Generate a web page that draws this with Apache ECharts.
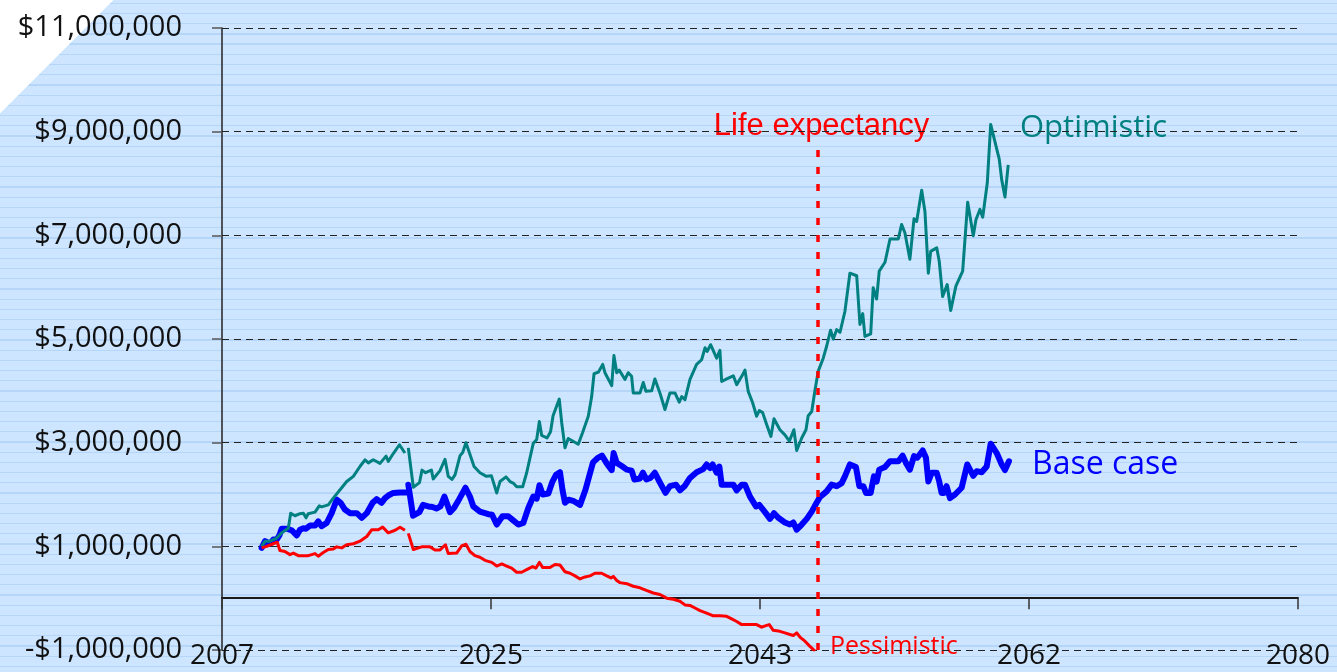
<!DOCTYPE html>
<html>
<head>
<meta charset="utf-8">
<script src="https://cdn.jsdelivr.net/npm/echarts@6/dist/echarts.min.js"></script>
<style>
html,body{margin:0;padding:0;width:1337px;height:672px;overflow:hidden;}
body{
  background-color:#cde5fe;
  background-image:
    linear-gradient(135deg,#ffffff 0,#ffffff 79.9px,rgba(255,255,255,0) 80.4px),
    repeating-linear-gradient(to bottom,rgba(0,0,0,0) 0,rgba(0,0,0,0) 2.7px,#b6d6f9 2.7px,#b6d6f9 4.0px,rgba(0,0,0,0) 4.0px,rgba(0,0,0,0) 10.2px);
}
#chart{width:1337px;height:672px;}
</style>
</head>
<body>
<div id="chart"></div>
<script>
// x values: years since 2007; y values: portfolio value in millions of dollars
const xTickLabels = ['2007', '2025', '2043', '2062', '2080'];
const yTickLabels = ['-$1,000,000', '$1,000,000', '$3,000,000', '$5,000,000', '$7,000,000', '$9,000,000', '$11,000,000'];
const seriesNames = ['Optimistic', 'Base case', 'Pessimistic'];
const lifeExpectancyYears = 40.43;

const optimisticMillions = [
[2.69,1.00],[2.92,1.10],[3.26,1.10],[3.71,1.16],[4.05,1.26],[4.50,1.35],[4.66,1.64],[4.95,1.59],[5.29,1.63],[5.52,1.64],[5.70,1.55],[5.85,1.63],[6.31,1.66],[6.60,1.78],[6.76,1.76],[7.21,1.80],[7.55,1.93],[8.12,2.13],[8.46,2.25],[8.91,2.35],[9.36,2.54],[9.70,2.67],[9.93,2.61],[10.26,2.67],[10.72,2.60],[11.13,2.74],[11.28,2.64],[11.62,2.79],[12.04,2.96],[12.41,2.80],[12.52,null],[12.64,2.90],[12.98,2.14],[13.40,2.23],[13.57,2.47],[13.81,2.42],[14.21,2.47],[14.33,2.30],[14.79,2.46],[15.13,2.68],[15.35,2.35],[15.60,2.29],[15.81,2.38],[16.15,2.75],[16.33,2.81],[16.55,3.00],[16.79,2.80],[17.10,2.54],[17.50,2.42],[17.94,2.35],[18.28,2.36],[18.64,2.03],[18.86,2.25],[19.27,2.34],[19.54,2.25],[19.76,2.22],[19.99,2.15],[20.40,2.15],[20.67,2.42],[21.12,2.99],[21.35,3.06],[21.53,3.41],[21.69,3.14],[22.05,3.09],[22.29,3.21],[22.46,3.52],[22.88,3.84],[23.05,3.38],[23.27,2.90],[23.49,3.08],[24.17,2.97],[24.46,3.19],[24.85,3.51],[25.08,3.89],[25.24,4.33],[25.53,4.36],[25.83,4.51],[25.98,4.35],[26.44,4.10],[26.59,4.68],[26.78,4.35],[26.95,4.40],[27.34,4.22],[27.56,4.35],[27.79,4.28],[27.90,3.96],[28.36,3.96],[28.58,4.16],[28.76,3.99],[29.15,4.00],[29.37,4.23],[29.49,4.22],[29.71,3.96],[30.05,3.64],[30.39,3.96],[30.73,3.96],[31.02,3.78],[31.19,3.89],[31.41,3.83],[31.75,4.22],[32.20,4.51],[32.54,4.60],[32.77,4.83],[32.92,4.76],[33.15,4.89],[33.45,4.70],[33.56,4.63],[33.78,4.78],[33.90,4.18],[34.24,4.23],[34.69,4.29],[34.92,4.12],[35.26,4.28],[35.48,4.40],[35.70,3.99],[36.00,3.77],[36.27,3.51],[36.45,3.62],[36.68,3.58],[36.95,3.35],[37.24,3.12],[37.45,3.46],[37.85,3.25],[38.19,3.15],[38.49,3.03],[38.80,3.25],[38.99,2.85],[39.33,3.09],[39.62,3.25],[39.77,3.52],[40.01,3.60],[40.23,4.01],[40.45,4.38],[40.79,4.63],[41.02,4.86],[41.29,5.17],[41.47,5.00],[41.70,5.18],[41.93,5.13],[42.26,5.53],[42.60,6.27],[43.06,6.22],[43.28,5.28],[43.47,5.49],[43.62,5.05],[44.01,5.10],[44.18,5.99],[44.41,5.77],[44.59,6.31],[44.98,6.48],[45.32,6.93],[45.88,6.93],[46.11,7.21],[46.33,7.05],[46.67,6.54],[46.95,7.32],[47.13,7.27],[47.47,7.87],[47.69,7.46],[47.92,6.27],[48.08,6.69],[48.49,6.76],[48.66,6.50],[48.89,5.82],[49.20,6.05],[49.44,5.55],[49.79,6.02],[50.25,6.31],[50.59,7.64],[50.97,6.99],[51.15,7.30],[51.42,7.50],[51.61,7.35],[51.92,8.01],[52.15,9.14],[52.73,8.47],[52.90,8.07],[53.12,7.74],[53.34,8.36]
];

const baseCaseMillions = [
[2.69,0.97],[2.92,1.10],[3.26,1.05],[3.48,1.13],[3.71,1.13],[3.89,1.21],[4.05,1.34],[4.39,1.34],[4.73,1.31],[5.07,1.21],[5.29,1.32],[5.52,1.35],[5.70,1.34],[5.97,1.40],[6.31,1.40],[6.53,1.48],[6.76,1.39],[7.10,1.45],[7.44,1.64],[7.78,1.90],[8.05,1.84],[8.34,1.71],[8.68,1.64],[9.14,1.64],[9.48,1.55],[9.82,1.64],[10.22,1.84],[10.49,1.91],[10.83,1.84],[11.06,1.93],[11.28,1.98],[11.62,2.03],[12.08,2.04],[12.48,2.04],[12.56,null],[12.64,2.19],[12.96,1.59],[13.39,1.66],[13.64,1.80],[14.00,1.77],[14.28,1.76],[14.55,1.73],[14.82,1.77],[15.09,1.96],[15.47,1.66],[15.74,1.74],[16.11,1.92],[16.52,2.13],[16.82,1.96],[17.05,1.77],[17.50,1.67],[18.07,1.62],[18.32,1.61],[18.64,1.42],[19.03,1.58],[19.42,1.58],[19.76,1.50],[20.10,1.42],[20.44,1.45],[20.78,1.74],[21.12,1.96],[21.35,1.92],[21.54,2.18],[21.76,2.00],[22.14,2.02],[22.42,2.25],[22.66,2.38],[22.93,2.43],[23.10,2.09],[23.27,1.84],[23.51,1.90],[23.88,1.87],[24.29,1.80],[24.66,2.09],[24.85,2.29],[25.17,2.62],[25.47,2.70],[25.78,2.75],[26.10,2.60],[26.44,2.47],[26.57,2.80],[26.78,2.61],[27.12,2.55],[27.46,2.48],[27.79,2.46],[27.98,2.29],[28.36,2.31],[28.56,2.42],[28.79,2.29],[29.07,2.32],[29.37,2.42],[29.60,2.29],[30.09,2.03],[30.39,2.16],[30.80,2.19],[31.07,2.08],[31.41,2.17],[31.75,2.32],[32.20,2.43],[32.65,2.49],[32.88,2.58],[33.11,2.51],[33.29,2.58],[33.56,2.42],[33.74,2.54],[33.90,2.19],[34.24,2.19],[34.69,2.19],[34.92,2.08],[35.26,2.19],[35.48,2.19],[35.82,1.96],[36.23,1.77],[36.45,1.80],[36.84,1.66],[37.18,1.53],[37.45,1.64],[37.74,1.55],[38.19,1.46],[38.53,1.42],[38.76,1.46],[38.99,1.32],[39.33,1.42],[39.67,1.53],[40.01,1.67],[40.34,1.84],[40.57,1.95],[41.02,2.06],[41.36,2.19],[41.70,2.16],[42.04,2.22],[42.26,2.35],[42.60,2.58],[43.01,2.53],[43.24,2.16],[43.51,2.16],[43.69,2.03],[44.01,2.03],[44.23,2.35],[44.41,2.25],[44.59,2.48],[44.98,2.53],[45.32,2.64],[45.88,2.64],[46.18,2.75],[46.40,2.61],[46.67,2.48],[46.95,2.74],[47.17,2.71],[47.54,2.85],[47.76,2.71],[47.92,2.25],[48.15,2.42],[48.49,2.42],[48.66,2.25],[48.82,2.03],[48.98,2.03],[49.16,2.16],[49.39,1.93],[49.73,2.00],[50.18,2.13],[50.56,2.58],[50.97,2.36],[51.20,2.45],[51.54,2.43],[51.88,2.54],[52.15,2.98],[52.56,2.80],[52.90,2.58],[53.12,2.47],[53.39,2.64]
];

const pessimisticMillions = [
[2.69,0.97],[3.03,1.00],[3.48,1.05],[3.75,1.08],[3.93,0.92],[4.27,0.90],[4.61,0.84],[4.84,0.87],[5.18,0.82],[5.85,0.82],[6.31,0.86],[6.53,0.81],[6.87,0.88],[7.21,0.94],[7.55,0.95],[7.78,0.99],[8.12,0.97],[8.46,1.03],[8.91,1.05],[9.36,1.10],[9.82,1.19],[10.16,1.32],[10.60,1.32],[10.90,1.37],[11.28,1.26],[11.74,1.31],[12.08,1.37],[12.41,1.31],[12.52,null],[12.64,1.25],[12.98,0.94],[13.55,0.99],[14.11,0.99],[14.45,0.93],[14.79,0.93],[15.16,1.03],[15.35,0.86],[15.92,0.87],[16.26,1.01],[16.55,1.04],[16.82,0.90],[17.16,0.82],[17.50,0.79],[17.84,0.73],[18.30,0.69],[18.64,0.62],[18.98,0.66],[19.31,0.62],[19.65,0.58],[19.99,0.50],[20.33,0.50],[20.67,0.55],[21.08,0.61],[21.30,0.58],[21.53,0.69],[21.76,0.59],[22.25,0.59],[22.59,0.65],[22.93,0.64],[23.27,0.51],[23.61,0.48],[23.95,0.43],[24.29,0.37],[24.63,0.41],[24.97,0.43],[25.30,0.48],[25.76,0.48],[26.10,0.43],[26.39,0.39],[26.55,0.42],[26.78,0.34],[27.00,0.30],[27.46,0.28],[27.90,0.23],[28.36,0.20],[28.79,0.15],[29.26,0.10],[29.71,0.07],[30.17,0.00],[30.62,-0.02],[31.07,-0.06],[31.41,-0.13],[31.75,-0.14],[32.09,-0.19],[32.43,-0.24],[32.88,-0.29],[33.33,-0.34],[33.78,-0.34],[34.24,-0.35],[34.58,-0.40],[34.92,-0.45],[35.26,-0.51],[35.60,-0.51],[36.27,-0.51],[36.61,-0.56],[36.90,-0.53],[37.13,-0.51],[37.40,-0.62],[37.85,-0.64],[38.19,-0.67],[38.53,-0.70],[38.76,-0.72],[38.99,-0.67],[39.21,-0.75],[39.55,-0.83],[39.89,-0.93],[40.23,-1.02]
];

const X_MIN = 0, X_MAX = 73, X_STEP = 18.25;
const Y_MIN = -1, Y_MAX = 11, Y_STEP = 2;

const chart = echarts.init(document.getElementById('chart'), null, {renderer: 'canvas'});
const labelFont = 'Open Sans';

chart.setOption({
  animation: false,
  backgroundColor: 'transparent',
  grid: {left: 222, right: 39, top: 28, bottom: 22, containLabel: false},
  xAxis: [
    {
      type: 'value', min: X_MIN, max: X_MAX, interval: X_STEP,
      axisLine: {show: true, onZero: true, onZeroAxisIndex: 0, lineStyle: {color: '#1a1a1a', width: 2}},
      axisTick: {show: true, length: 11, lineStyle: {color: '#333', width: 1.5}},
      axisLabel: {show: false},
      splitLine: {show: false}
    },
    {
      type: 'value', min: X_MIN, max: X_MAX, interval: X_STEP, position: 'bottom',
      axisLine: {show: false, onZero: false},
      axisTick: {show: false},
      axisLabel: {
        show: true, margin: -8, fontFamily: labelFont, fontSize: 28, color: '#111',
        formatter: v => xTickLabels[Math.round((v - X_MIN) / X_STEP)]
      },
      splitLine: {show: false}
    }
  ],
  yAxis: {
    type: 'value', min: Y_MIN, max: Y_MAX, interval: Y_STEP,
    axisLine: {show: true, lineStyle: {color: '#222', width: 1.5}},
    axisTick: {show: true, length: 10, lineStyle: {color: '#555', width: 1.5}},
    axisLabel: {
      margin: 40, fontFamily: labelFont, fontSize: 29, color: '#111',
      padding: [0, 0, 10, 0],
      formatter: v => yTickLabels[Math.round((v - Y_MIN) / Y_STEP)]
    },
    splitLine: {show: true, lineStyle: {color: '#222', width: 1.2, type: [7, 5]}}
  },
  graphic: [
    {type: 'text', z: -1, x: 821.5, y: 126, style: {text: 'Life expectancy', fill: '#ff0000', font: '31px "Liberation Sans", Arial, sans-serif', textAlign: 'center', textVerticalAlign: 'middle'}},
    {type: 'text', z: -1, x: 1020, y: 128, style: {text: seriesNames[0], fill: '#008080', font: '31px "Open Sans", sans-serif', textAlign: 'left', textVerticalAlign: 'middle', letterSpacing: 0.3}},
    {type: 'text', z: -1, x: 1032, y: 465, style: {text: seriesNames[1], fill: '#0000ff', font: '32px "Open Sans", sans-serif', textAlign: 'left', textVerticalAlign: 'middle', letterSpacing: 1.6}},
    {type: 'text', z: -1, x: 830, y: 647, style: {text: seriesNames[2], fill: '#ff0000', font: '25px "Open Sans", sans-serif', textAlign: 'left', textVerticalAlign: 'middle'}}
  ],
  series: [
    {
      name: seriesNames[1], type: 'line', xAxisIndex: 0, data: baseCaseMillions,
      showSymbol: false, symbol: 'none', connectNulls: false,
      lineStyle: {color: '#0000ff', width: 6, join: 'round', cap: 'round'}, z: 2
    },
    {
      name: seriesNames[0], type: 'line', xAxisIndex: 0, data: optimisticMillions,
      showSymbol: false, symbol: 'none', connectNulls: false,
      lineStyle: {color: '#008080', width: 3, join: 'round'}, z: 3
    },
    {
      name: seriesNames[2], type: 'line', xAxisIndex: 0, data: pessimisticMillions,
      showSymbol: false, symbol: 'none', connectNulls: false,
      lineStyle: {color: '#ff0000', width: 3, join: 'round'}, z: 4,
      markLine: {
        silent: true, symbol: ['none', 'none'], animation: false,
        lineStyle: {color: '#ff0000', width: 3.5, type: [7, 10]},
        label: {show: false},
        data: [[{coord: [lifeExpectancyYears, Y_MIN]}, {coord: [lifeExpectancyYears, 8.66]}]]
      }
    }
  ]
});
</script>
</body>
</html>
